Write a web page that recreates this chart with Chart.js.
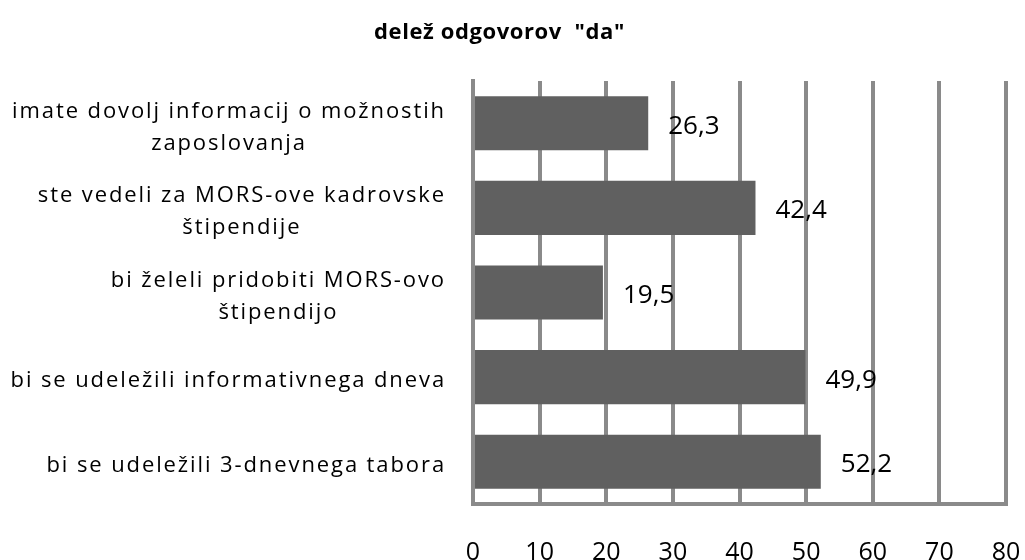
<!DOCTYPE html>
<html>
<head>
<meta charset="utf-8">
<script src="https://cdn.jsdelivr.net/npm/chart.js@4"></script>
<style>
  html, body { margin: 0; padding: 0; background: #fff; }
  #wrap { width: 1025px; height: 560px; }
</style>
</head>
<body>
<div id="wrap"><canvas id="chartDa"></canvas></div>
<script>
// Podatki
const categories = [
  ['imate dovolj informacij o možnostih', 'zaposlovanja'],
  ['ste vedeli za MORS-ove kadrovske', 'štipendije'],
  ['bi želeli pridobiti MORS-ovo', 'štipendijo'],
  'bi se udeležili informativnega dneva',
  'bi se udeležili 3-dnevnega tabora'
];
const shareYes = [26.3, 42.4, 19.5, 49.9, 52.2];
const xTicks = [0, 10, 20, 30, 40, 50, 60, 70, 80];
const titleText = 'delež odgovorov  "da"';

const FONT = '"Open Sans", sans-serif';
const GRID = '#8a8a8a';

// Besedila: naslov, oznake kategorij (vrstice centrirane, blok poravnan desno), vrednosti
const textPlugin = {
  id: 'textPlugin',
  afterDraw(chart) {
    const ctx = chart.ctx;
    const area = chart.chartArea;
    const yScale = chart.scales.y;
    const meta = chart.getDatasetMeta(0);
    ctx.save();
    ctx.fillStyle = '#000';
    ctx.textBaseline = 'middle';

    // naslov
    ctx.font = 'bold 22px ' + FONT;
    ctx.letterSpacing = '0.6px';
    ctx.textAlign = 'center';
    ctx.fillText(titleText, chart.width / 2 - 13, 33);

    // kategorije
    ctx.font = '22px ' + FONT;
    ctx.letterSpacing = '1.9px';
    const right = area.left - 27;
    const lineH = 32;
    categories.forEach((lab, i) => {
      const lines = Array.isArray(lab) ? lab : [lab];
      const blockW = Math.max(...lines.map(l => ctx.measureText(l).width));
      const cx = right - blockW / 2;
      const cy = yScale.getPixelForValue(i) + 4;
      lines.forEach((l, k) => {
        ctx.fillText(l, cx, cy + (k - (lines.length - 1) / 2) * lineH);
      });
    });

    // vrednosti
    ctx.font = '26px ' + FONT;
    ctx.letterSpacing = '0px';
    ctx.textAlign = 'left';
    meta.data.forEach((bar, i) => {
      const txt = shareYes[i].toFixed(1).replace('.', ',');
      ctx.fillText(txt, bar.x + 20, bar.y + 3);
    });
    ctx.restore();
  }
};

new Chart(document.getElementById('chartDa'), {
  type: 'bar',
  data: {
    labels: categories,
    datasets: [{
      data: shareYes,
      backgroundColor: '#606060',
      borderWidth: 0,
      barPercentage: 0.64,
      categoryPercentage: 1
    }]
  },
  options: {
    indexAxis: 'y',
    responsive: true,
    maintainAspectRatio: false,
    animation: false,
    layout: { padding: { left: 0, right: 19, top: 81, bottom: 0 } },
    scales: {
      x: {
        min: 0,
        max: 80,
        afterBuildTicks: axis => { axis.ticks = xTicks.map(v => ({ value: v })); },
        afterFit: axis => { axis.height = 56; },
        grid: { color: GRID, lineWidth: 4, drawTicks: true, tickLength: 30, tickColor: 'rgba(0,0,0,0)' },
        border: { color: GRID, width: 4 },
        ticks: { color: '#000', padding: 4, font: { family: FONT, size: 25 } }
      },
      y: {
        afterFit: axis => { axis.width = 473; },
        grid: { display: false, drawTicks: false },
        border: { color: GRID, width: 4 },
        ticks: { display: false }
      }
    },
    plugins: {
      legend: { display: false },
      tooltip: { enabled: false },
      title: { display: false }
    }
  },
  plugins: [textPlugin]
});
</script>
</body>
</html>
